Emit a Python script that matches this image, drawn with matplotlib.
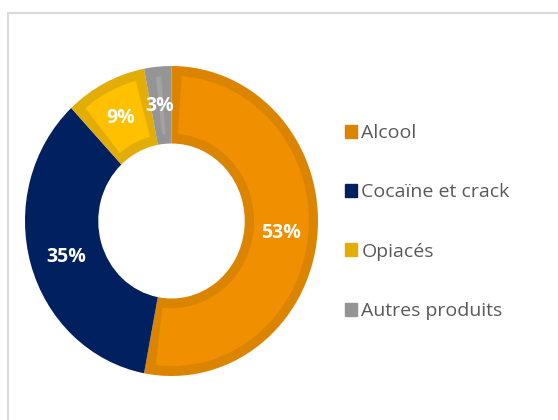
import matplotlib.pyplot as plt
import matplotlib.patches as mpatches

labels = ['Alcool', 'Cocaïne et crack', 'Opiacés', 'Autres produits']
values = [53, 35, 9, 3]
pct_text = ['53%', '35%', '9%', '3%']
colors = ['#F08F00', '#002060', '#FFC000', '#A3A3A3']
edges = ['#DB8400', '#002060', '#E3AD08', '#959595']

plt.rcParams['font.family'] = ['Open Sans', 'DejaVu Sans']

fig = plt.figure(figsize=(5.58, 4.20), dpi=100)
fig.patch.set_facecolor('white')

# light grey frame, runs off the right and bottom edges
frame = mpatches.Rectangle((8 / 558, -0.2), 1.2, 1.2 - 13 / 420,
                           transform=fig.transFigure, fill=False,
                           edgecolor='#D9D9D9', linewidth=1.5)
fig.patches.append(frame)

ax = fig.add_axes([25 / 558, 44 / 420, 293 / 558, 310 / 420])
wedges, texts = ax.pie(values, colors=edges, startangle=90, counterclock=False,
                       radius=1, wedgeprops=dict(width=0.5, linewidth=0))
ax.set_aspect('auto')
ax.set_xlim(-1, 1)
ax.set_ylim(-1, 1)
ax.axis('off')

# lighter fill inset inside each slice, leaving a darker border
d = 0.063
da = 4.3
for w, c in zip(wedges, colors):
    inner = mpatches.Wedge(w.center, w.r - d, w.theta1 + da, w.theta2 - da,
                           width=w.width - 2 * d, facecolor=c, linewidth=0)
    ax.add_patch(inner)

label_pos = [(0.75, -0.077), (-0.72, -0.23), (-0.345, 0.665), (-0.078, 0.74)]
for (x, y), t in zip(label_pos, pct_text):
    ax.text(x, y, t, color='white', fontsize=14, fontweight='bold',
            ha='center', va='center')

handles = [mpatches.Patch(facecolor=c, edgecolor=c) for c in edges]
leg = fig.legend(handles, labels, loc='center left', bbox_to_anchor=(337 / 558, 1 - 222 / 420),
                 frameon=False, fontsize=14, handlelength=0.65, handleheight=0.65,
                 handletextpad=0.2, labelspacing=2.13, borderaxespad=0)
for t in leg.get_texts():
    t.set_color('#595959')

fig.savefig('out.png', dpi=100)
